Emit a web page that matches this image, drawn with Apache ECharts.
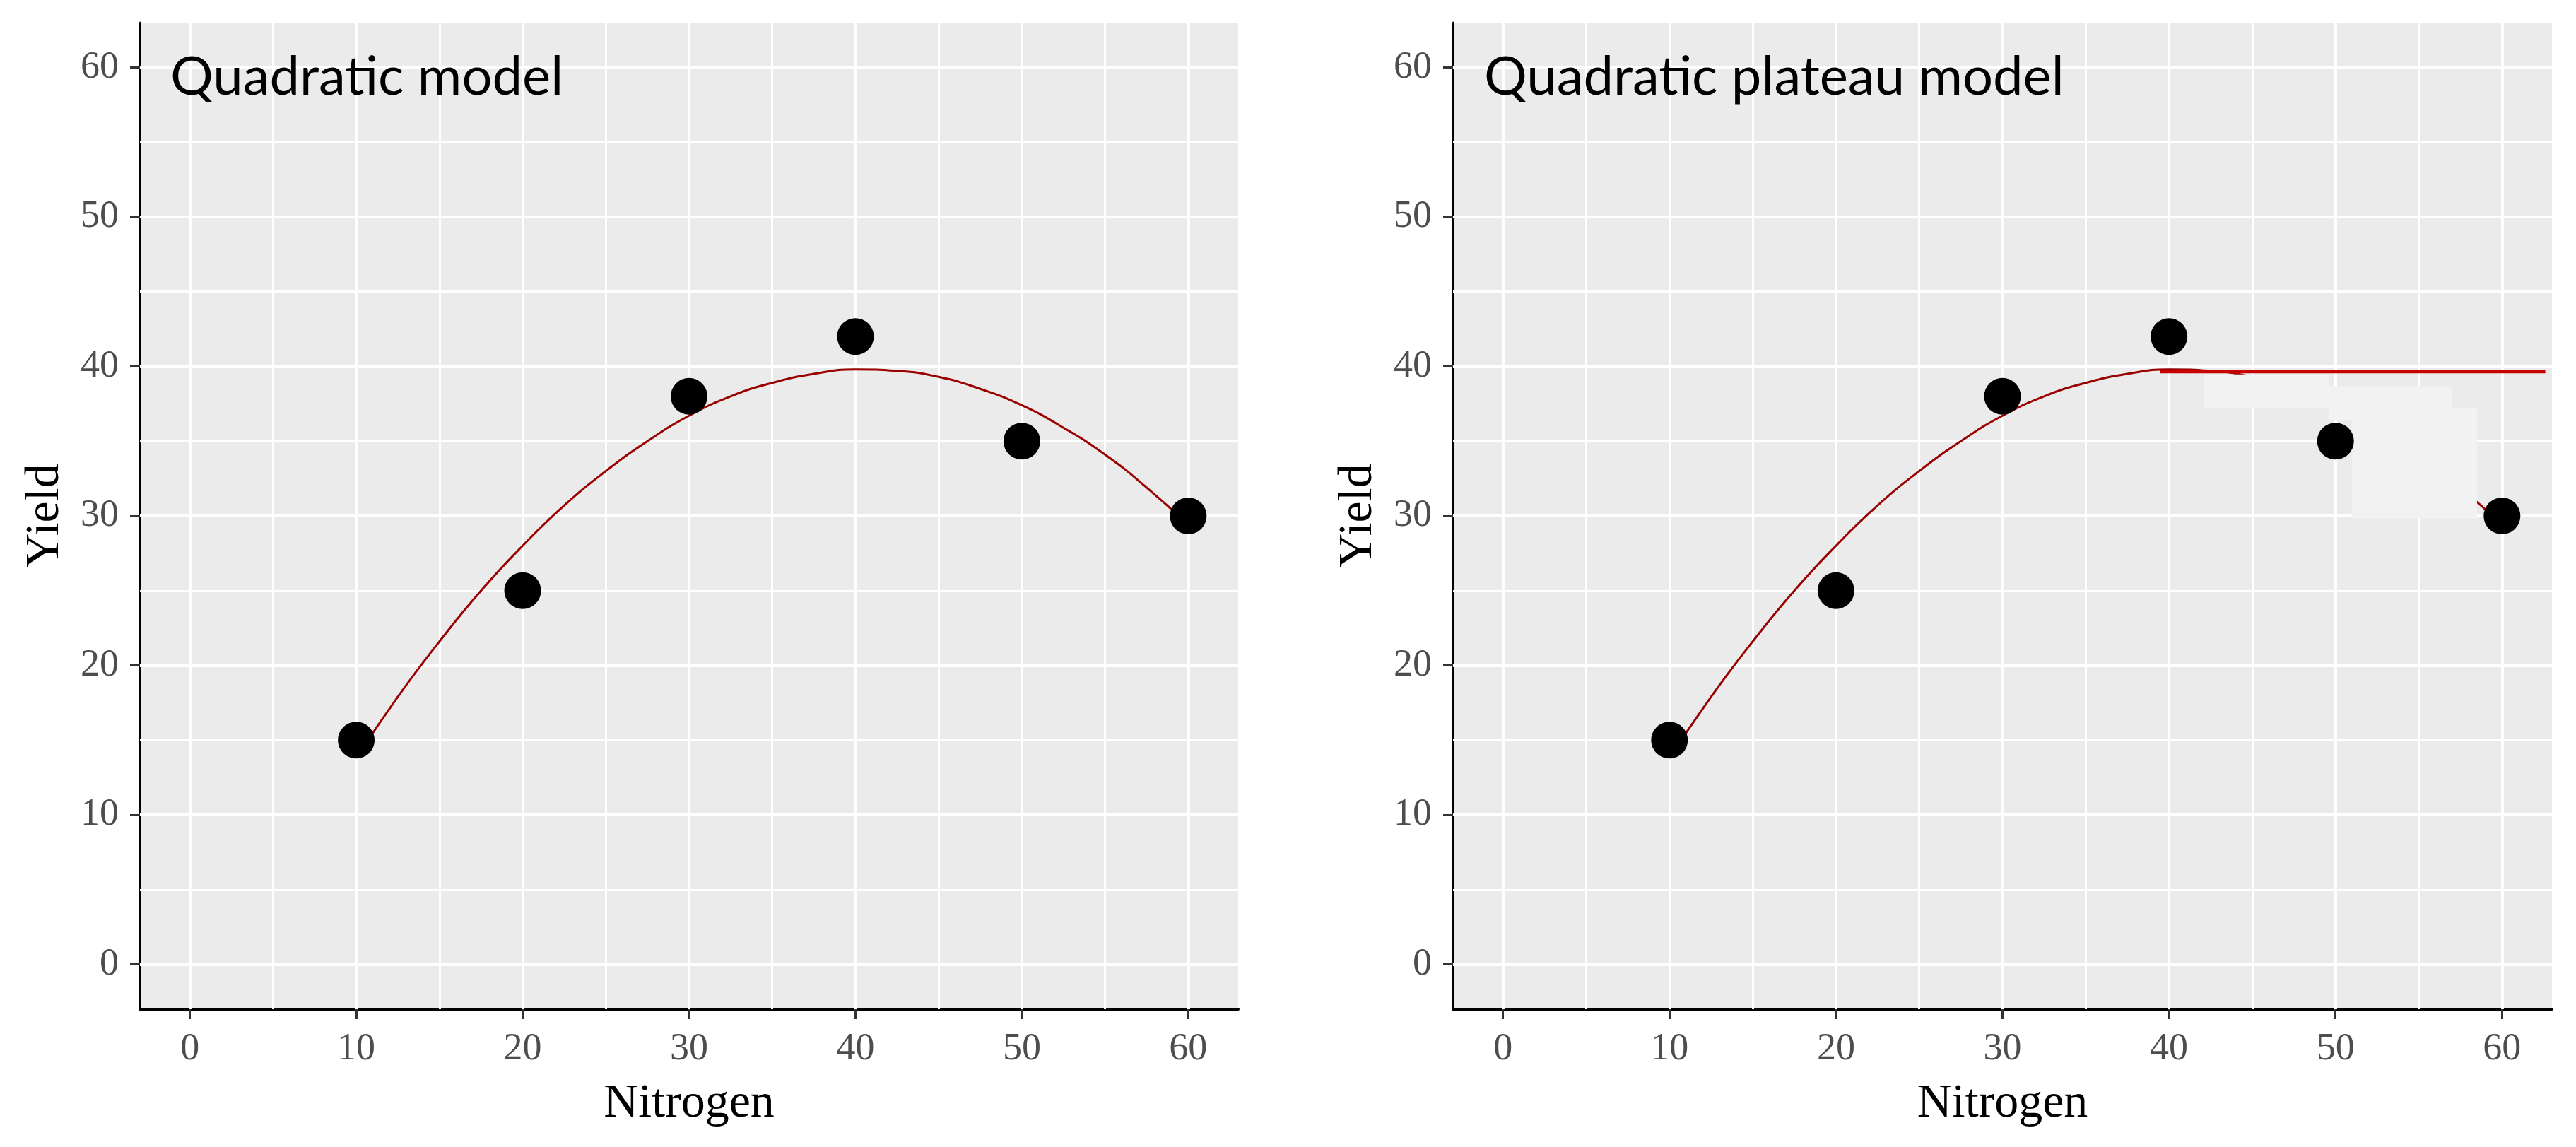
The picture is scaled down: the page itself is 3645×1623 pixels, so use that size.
<!DOCTYPE html>
<html>
<head>
<meta charset="utf-8">
<script src="https://cdn.jsdelivr.net/npm/echarts@6/dist/echarts.min.js"></script>
<style>
html,body{margin:0;padding:0;background:#fff;}
#chart{width:3645px;height:1623px;}
</style>
</head>
<body>
<div id="chart"></div>
<script>
// ---- data ----
const nitrogen = [10, 20, 30, 40, 50, 60];
const yieldObs = [15, 25, 38, 42, 35, 30];
// fitted quadratic curve
const fitX = [10, 12.5, 15, 17.5, 20, 22.5, 25, 27.5, 30, 32.5, 35, 37.5, 40, 42.5, 45, 47.5, 50, 52.5, 55, 57.5, 60];
const fitY = [13.8, 17.9, 21.6, 25.0, 28.0, 30.7, 33.0, 35.0, 36.7, 38.0, 38.9, 39.5, 39.8, 39.7, 39.3, 38.5, 37.4, 35.9, 34.1, 31.9, 29.4];
// plateau segment (right panel)
const plateauX = [39.45, 62.6];
const plateauY = [39.66, 39.66];
// light patches covering the old curve in the right panel [x1, y1, x2, y2]
const patchA = [42.1, 37.2, 49.6, 39.47];
const patchB = [49.6, 37.2, 57.0, 38.68];
const patchC = [49.6, 36.4, 58.5, 37.2];
const patchD = [51.0, 29.84, 58.5, 36.4];
const xTicks = [0, 10, 20, 30, 40, 50, 60];
const yTicks = [0, 10, 20, 30, 40, 50, 60];
const xMinor = [5, 15, 25, 35, 45, 55];
const yMinor = [5, 15, 25, 35, 45, 55];
const panelTitles = ['Quadratic model', 'Quadratic plateau model'];
const xName = 'Nitrogen';
const yName = 'Yield';

// ---- chart ----
const chart = echarts.init(document.getElementById('chart'), null, {renderer: 'canvas'});
const zip = (a, b) => a.map((v, i) => [v, b[i]]);
const serif = '"Liberation Serif", "Times New Roman", serif';

function gridLines() {
  const d = [];
  xTicks.forEach(v => d.push({xAxis: v, lineStyle: {width: 4}}));
  xMinor.forEach(v => d.push({xAxis: v, lineStyle: {width: 3}}));
  yTicks.forEach(v => d.push({yAxis: v, lineStyle: {width: 4}}));
  yMinor.forEach(v => d.push({yAxis: v, lineStyle: {width: 3}}));
  return d;
}
function xAxisOpt(i) {
  return {
    type: 'value', gridIndex: i, min: -3, max: 63,
    name: xName, nameLocation: 'middle', nameGap: 100,
    nameTextStyle: {fontFamily: serif, fontSize: 68, color: '#000'},
    axisLine: {show: true, onZero: false, lineStyle: {color: '#000', width: 4}},
    axisTick: {show: true, length: 14, customValues: xTicks, lineStyle: {color: '#333', width: 3}},
    axisLabel: {show: true, customValues: xTicks, margin: 30, fontFamily: serif, fontSize: 54, color: '#4D4D4D'},
    splitLine: {show: false}
  };
}
function yAxisOpt(i) {
  return {
    type: 'value', gridIndex: i, min: -3, max: 63,
    name: yName, nameLocation: 'middle', nameGap: 100,
    nameTextStyle: {fontFamily: serif, fontSize: 68, color: '#000'},
    axisLine: {show: true, onZero: false, lineStyle: {color: '#000', width: 3}},
    axisTick: {show: true, length: 14, customValues: yTicks, lineStyle: {color: '#333', width: 3}},
    axisLabel: {show: true, customValues: yTicks, margin: 30, fontFamily: serif, fontSize: 54, color: '#4D4D4D'},
    splitLine: {show: false}
  };
}
function panelSeries(i) {
  return [
    {
      type: 'line', xAxisIndex: i, yAxisIndex: i, data: [], z: 1, silent: true,
      markLine: {silent: true, z: 1, symbol: ['none', 'none'], label: {show: false},
        lineStyle: {color: '#FFFFFF', type: 'solid', width: 4}, data: gridLines(), animation: false}
    },
    {
      type: 'line', xAxisIndex: i, yAxisIndex: i, data: zip(fitX, fitY), smooth: true,
      showSymbol: false, z: 2, lineStyle: {color: '#9A0000', width: 3}
    }
  ];
}

const series = [].concat(panelSeries(0), panelSeries(1));
series.push({
  type: 'line', xAxisIndex: 1, yAxisIndex: 1, data: [], z: 3, silent: true,
  markArea: {silent: true, z: 3, itemStyle: {color: '#F2F2F2', opacity: 1},
    data: [patchA, patchB, patchC, patchD].map(p => [{coord: [p[0], p[1]]}, {coord: [p[2], p[3]]}])}
});
series.push({
  type: 'line', xAxisIndex: 1, yAxisIndex: 1, data: zip(plateauX, plateauY),
  showSymbol: false, z: 4, lineStyle: {color: '#C80000', width: 5}
});
[0, 1].forEach(i => series.push({
  type: 'scatter', xAxisIndex: i, yAxisIndex: i, data: zip(nitrogen, yieldObs),
  symbolSize: 52, itemStyle: {color: '#000', opacity: 1}, z: 5
}));

chart.setOption({
  animation: false,
  backgroundColor: '#FFFFFF',
  title: [
    {text: panelTitles[0], left: 236, top: 66, textStyle: {fontFamily: 'Lato', fontWeight: 'normal', fontSize: 76, color: '#000'}},
    {text: panelTitles[1], left: 2095, top: 66, textStyle: {fontFamily: 'Lato', fontWeight: 'normal', fontSize: 76, color: '#000'}}
  ],
  grid: [
    {left: 198, top: 32, width: 1554, height: 1396, show: true, backgroundColor: '#EBEBEB', borderWidth: 0},
    {left: 2056, top: 32, width: 1555, height: 1396, show: true, backgroundColor: '#EBEBEB', borderWidth: 0}
  ],
  xAxis: [xAxisOpt(0), xAxisOpt(1)],
  yAxis: [yAxisOpt(0), yAxisOpt(1)],
  series: series
});
</script>
</body>
</html>
